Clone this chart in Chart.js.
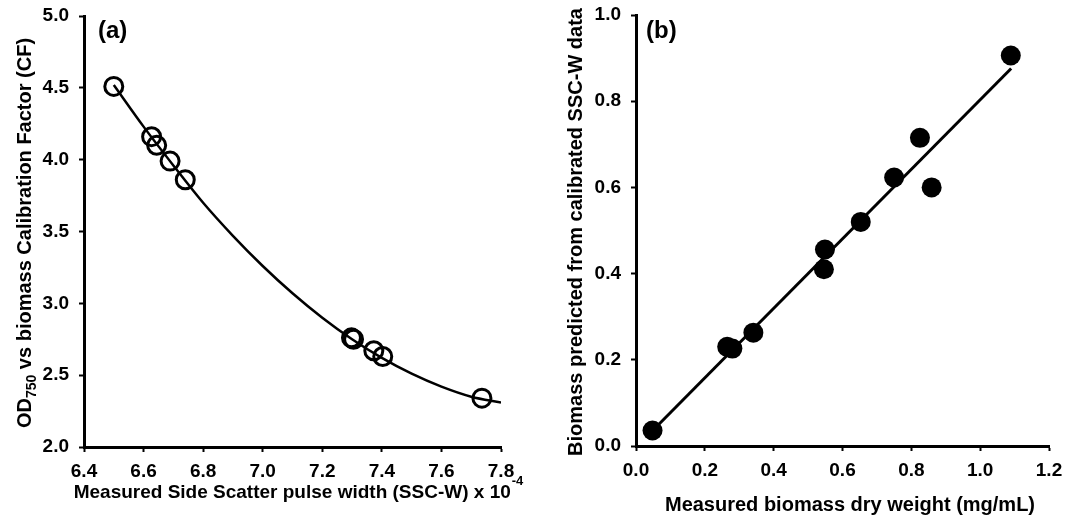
<!DOCTYPE html>
<html>
<head>
<meta charset="utf-8">
<script src="https://cdn.jsdelivr.net/npm/chart.js@4.4.0/dist/chart.umd.min.js"></script>
<style>
   body { margin: 0; background: #fff; }
   #wrap { position: relative; width: 1078px; height: 518px; }
   #chart-a { position: absolute; left: 0; top: 0; }
   #chart-b { position: absolute; left: 540px; top: 0; }
</style>
</head>
<body>
<div id="wrap">
   <canvas id="chart-a" width="540" height="518"></canvas>
   <canvas id="chart-b" width="538" height="518"></canvas>
</div>
<script>
// Panel (a) : calibration factor vs SSC-W
const sscWidth = [6.50, 6.627, 6.644, 6.689, 6.74, 7.298, 7.305, 7.373, 7.403, 7.736];
const calibrationFactor = [4.51, 4.16, 4.10, 3.99, 3.86, 2.76, 2.75, 2.67, 2.63, 2.34];
const fitSscWidth = [6.5, 6.6, 6.7, 6.8, 6.9, 7.0, 7.1, 7.2, 7.3, 7.4, 7.5, 7.6, 7.7, 7.8];
const fitCalibration = [4.52, 4.23, 3.96, 3.70, 3.47, 3.26, 3.07, 2.90, 2.75, 2.62, 2.51, 2.42, 2.35, 2.31];

// Panel (b) : predicted vs measured biomass
const dryWeight = [0.048, 0.265, 0.28, 0.341, 0.549, 0.546, 0.653, 0.75, 0.825, 0.859, 1.089];
const predictedBiomass = [0.036, 0.23, 0.226, 0.263, 0.456, 0.41, 0.52, 0.623, 0.715, 0.60, 0.906];
const fitDryWeight = [0.05, 1.09];
const fitPredicted = [0.037, 0.876];

const FONT = 'Liberation Sans, Arial, Helvetica, sans-serif';

function toPoints(xs, ys) {
   return xs.map((x, i) => ({ x: x, y: ys[i] }));
}

function axis(min, max, step, size, pad) {
   return {
      type: 'linear',
      min: min,
      max: max,
      ticks: {
         stepSize: step,
         color: '#000',
         font: { family: FONT, size: 19, weight: 'bold' },
         padding: pad,
         callback: v => v.toFixed(1)
      },
      grid: {
         drawOnChartArea: false,
         drawTicks: true,
         tickLength: 5,
         tickColor: '#000',
         tickWidth: 2
      },
      border: { color: '#000', width: 3 },
      afterFit: scale => {
         if (scale.isHorizontal()) scale.height = size;
         else scale.width = size;
         // let layout.padding alone decide where the plot area sits
         scale.paddingTop = 0;
         scale.paddingBottom = 0;
         scale.paddingLeft = 0;
         scale.paddingRight = 0;
      }
   };
}

// axis titles (with sub/superscript) and the panel letter
function titlesPlugin(cfg) {
   return {
      id: 'titles',
      afterDraw(chart) {
         const ctx = chart.ctx;
         ctx.save();
         ctx.fillStyle = '#000';
         ctx.textBaseline = 'alphabetic';

         ctx.font = 'bold 24px ' + FONT;
         ctx.textAlign = 'left';
         ctx.fillText(cfg.letter, cfg.letterX, cfg.letterY);

         // x title
         const xf = 'bold ' + cfg.xSize + 'px ' + FONT;
         ctx.font = xf;
         let w = ctx.measureText(cfg.xTitle).width;
         let supW = 0;
         if (cfg.xSup) {
            ctx.font = 'bold 13px ' + FONT;
            supW = ctx.measureText(cfg.xSup).width;
         }
         let x0 = cfg.xTitleX - (w + supW) / 2;
         ctx.font = xf;
         ctx.fillText(cfg.xTitle, x0, cfg.xTitleY);
         if (cfg.xSup) {
            ctx.font = 'bold 13px ' + FONT;
            ctx.fillText(cfg.xSup, x0 + w + 1, cfg.xTitleY - 13);
         }

         // y title, rotated
         ctx.translate(cfg.yTitleX, cfg.yTitleY);
         ctx.rotate(-Math.PI / 2);
         let total = 0;
         for (const p of cfg.yParts) {
            ctx.font = 'bold ' + p.size + 'px ' + FONT;
            total += ctx.measureText(p.text).width;
         }
         let pos = -total / 2;
         for (const p of cfg.yParts) {
            ctx.font = 'bold ' + p.size + 'px ' + FONT;
            ctx.fillText(p.text, pos, p.shift || 0);
            pos += ctx.measureText(p.text).width;
         }
         ctx.restore();
      }
   };
}

const chartA = new Chart(document.getElementById('chart-a'), {
   type: 'scatter',
   data: {
      datasets: [{
         data: toPoints(fitSscWidth, fitCalibration),
         showLine: true,
         borderColor: '#000',
         borderWidth: 2.5,
         pointRadius: 0,
         cubicInterpolationMode: 'monotone'
      }, {
         data: toPoints(sscWidth, calibrationFactor),
         pointRadius: 9,
         pointBorderWidth: 3,
         pointBorderColor: '#000',
         pointBackgroundColor: 'rgba(0,0,0,0)'
      }]
   },
   options: {
      responsive: false,
      animation: false,
      layout: { padding: { left: 0, top: 16, right: 39, bottom: 0 } },
      scales: {
         x: axis(6.4, 7.8, 0.2, 71, 8),
         y: axis(2.0, 5.0, 0.5, 84, 10)
      },
      plugins: { legend: { display: false }, tooltip: { enabled: false } }
   },
   plugins: [titlesPlugin({
      letter: '(a)', letterX: 98, letterY: 38,
      xTitle: 'Measured Side Scatter pulse width (SSC-W) x 10', xSup: '-4', xSize: 19,
      xTitleX: 298, xTitleY: 498,
      yTitleX: 31, yTitleY: 233,
      yParts: [
         { text: 'OD', size: 20 },
         { text: '750', size: 14, shift: 5 },
         { text: ' vs biomass Calibration Factor (CF)', size: 20 }
      ]
   })]
});

const chartB = new Chart(document.getElementById('chart-b'), {
   type: 'scatter',
   data: {
      datasets: [{
         data: toPoints(fitDryWeight, fitPredicted),
         showLine: true,
         borderColor: '#000',
         borderWidth: 3,
         pointRadius: 0
      }, {
         data: toPoints(dryWeight, predictedBiomass),
         pointRadius: 10,
         pointBorderWidth: 0,
         pointBackgroundColor: '#000'
      }]
   },
   options: {
      responsive: false,
      animation: false,
      layout: { padding: { left: 0, top: 15, right: 29, bottom: 0 } },
      scales: {
         x: axis(0, 1.2, 0.2, 72, 8),
         y: axis(0, 1.0, 0.2, 96, 10)
      },
      plugins: { legend: { display: false }, tooltip: { enabled: false } }
   },
   plugins: [titlesPlugin({
      letter: '(b)', letterX: 106, letterY: 38,
      xTitle: 'Measured biomass dry weight (mg/mL)', xSize: 20,
      xTitleX: 310, xTitleY: 511,
      yTitleX: 42, yTitleY: 232,
      yParts: [{ text: 'Biomass predicted from calibrated SSC-W data', size: 20 }]
   })]
});
</script>
</body>
</html>
